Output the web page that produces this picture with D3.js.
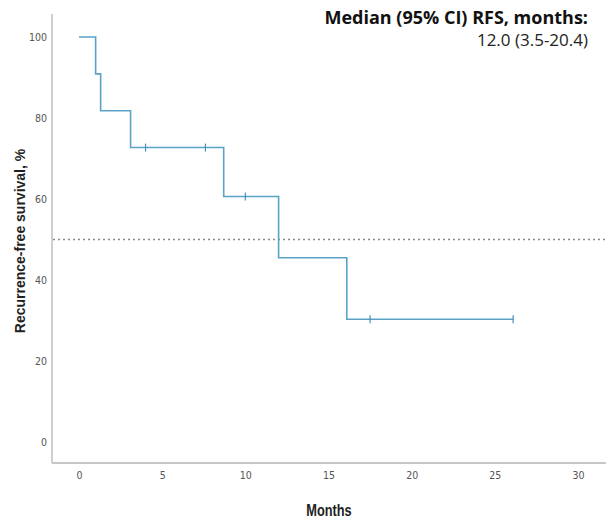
<!DOCTYPE html>
<html>
<head>
  <meta charset="UTF-8">
  <title>Recurrence-free survival</title>
  <style>
    body { margin: 0; background: #fff; }
    .tick text { font-family: "Liberation Sans Narrow", "DejaVu Sans Condensed", sans-serif; font-stretch: condensed; fill: #555; }
  </style>
</head>
<body>
<svg id="chart" width="608" height="524"></svg>
<script src="https://d3js.org/d3.v7.min.js"></script>
<script>
  // Kaplan-Meier steps: time (months) and survival (%) after each event
  var stepTimes = [0, 1.0, 1.3, 3.1, 8.7, 12.0, 16.1];
  var stepSurv  = [100, 90.9, 81.8, 72.7, 60.6, 45.5, 30.3];
  var endTime = 26.1;
  // censored observations
  var censorTimes = [4.0, 7.6, 10.0, 17.5, 26.1];
  var xTicks = [0, 5, 10, 15, 20, 25, 30];
  var yTicks = [0, 20, 40, 60, 80, 100];
  var medianLine = 50;

  var svg = d3.select("#chart");

  var x = d3.scaleLinear().domain([0, 30]).range([79, 578]);
  var y = d3.scaleLinear().domain([0, 100]).range([442, 37]);

  var axisColor = "#b5b5b5";

  // y axis
  var yAxis = svg.append("g")
    .attr("transform", "translate(52,0)")
    .call(d3.axisLeft(y).tickValues(yTicks).tickSize(0).tickPadding(5));
  yAxis.select(".domain").remove();
  yAxis.selectAll("text").attr("font-size", 10.5).attr("dy", "0.35em");
  svg.append("line")
    .attr("x1", 52).attr("x2", 52).attr("y1", 14).attr("y2", 463)
    .attr("stroke", axisColor).attr("stroke-width", 1.3);

  // x axis
  var xAxis = svg.append("g")
    .attr("transform", "translate(0,463)")
    .call(d3.axisBottom(x).tickValues(xTicks).tickSize(0).tickPadding(9));
  xAxis.select(".domain").remove();
  xAxis.selectAll("text").attr("font-size", 10.5);
  svg.append("line")
    .attr("x1", 52).attr("x2", 606).attr("y1", 463).attr("y2", 463)
    .attr("stroke", axisColor).attr("stroke-width", 1.3);

  // 50% reference line
  svg.append("line")
    .attr("x1", 53).attr("x2", 606)
    .attr("y1", y(medianLine)).attr("y2", y(medianLine))
    .attr("stroke", "#8a8a8a").attr("stroke-width", 1.5)
    .attr("stroke-dasharray", "2,3");

  // survival curve
  var pts = stepTimes.map(function(t, i) { return [t, stepSurv[i]]; });
  pts.push([endTime, stepSurv[stepSurv.length - 1]]);
  var line = d3.line()
    .x(function(d) { return x(d[0]); })
    .y(function(d) { return y(d[1]); })
    .curve(d3.curveStepAfter);
  var curveColor = "#5aa3c6";
  svg.append("path")
    .datum(pts)
    .attr("d", line)
    .attr("fill", "none")
    .attr("stroke", curveColor)
    .attr("stroke-width", 1.6);

  // survival at time t
  function survAt(t) {
    var s = 100;
    for (var i = 0; i < stepTimes.length; i++) {
      if (stepTimes[i] <= t) s = stepSurv[i];
    }
    return s;
  }

  svg.selectAll(".censor")
    .data(censorTimes)
    .enter().append("line")
    .attr("class", "censor")
    .attr("x1", function(d) { return x(d); })
    .attr("x2", function(d) { return x(d); })
    .attr("y1", function(d) { return y(survAt(d)) - 4; })
    .attr("y2", function(d) { return y(survAt(d)) + 4; })
    .attr("stroke", "#4a8fb3")
    .attr("stroke-width", 1.2);

  // axis titles
  svg.append("text")
    .attr("transform", "translate(25,241) rotate(-90)")
    .attr("text-anchor", "middle")
    .attr("font-family", "Liberation Sans, Arial, sans-serif")
    .attr("font-weight", "bold")
    .attr("font-size", 14)
    .attr("fill", "#222")
    .text("Recurrence-free survival, %");

  svg.append("text")
    .attr("transform", "translate(329,516) scale(0.8,1)")
    .attr("text-anchor", "middle")
    .attr("font-family", "Liberation Sans, Arial, sans-serif")
    .attr("font-weight", "bold")
    .attr("font-size", 16)
    .attr("fill", "#222")
    .text("Months");

  // median annotation
  svg.append("text")
    .attr("x", 588).attr("y", 24)
    .attr("text-anchor", "end")
    .attr("font-family", "Open Sans, Noto Sans, sans-serif")
    .attr("font-weight", "bold")
    .attr("font-size", 18)
    .attr("fill", "#111")
    .text("Median (95% CI) RFS, months:");

  svg.append("text")
    .attr("x", 588).attr("y", 46)
    .attr("text-anchor", "end")
    .attr("font-family", "Open Sans, Noto Sans, sans-serif")
    .attr("font-size", 17)
    .attr("fill", "#222")
    .text("12.0 (3.5-20.4)");
</script>
</body>
</html>
